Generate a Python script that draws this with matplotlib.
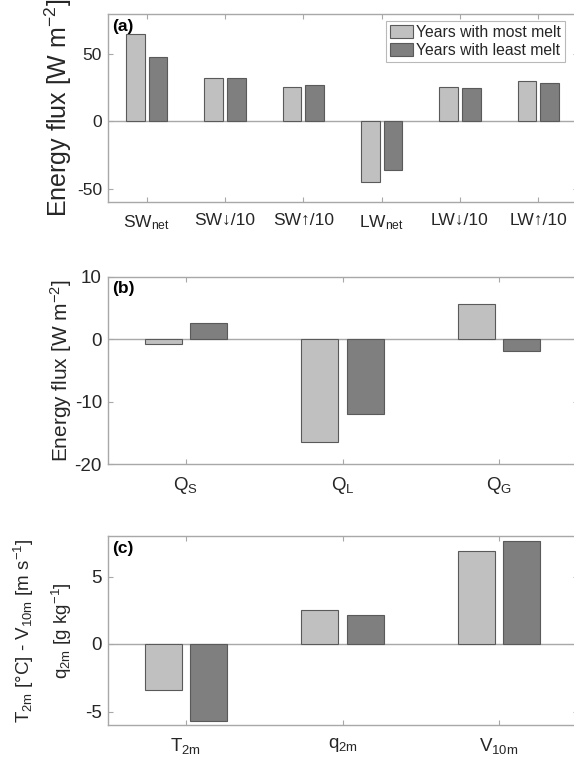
import matplotlib
matplotlib.use("Agg")
import matplotlib.pyplot as plt
import numpy as np

plt.rcParams['font.family'] = ['Liberation Sans', 'DejaVu Sans']
plt.rcParams['mathtext.fontset'] = 'custom'
plt.rcParams['mathtext.rm'] = 'Liberation Sans'
plt.rcParams['mathtext.it'] = 'Liberation Sans:italic'
plt.rcParams['mathtext.bf'] = 'Liberation Sans:bold'

# ---- data ----
series_names = ["Years with most melt", "Years with least melt"]

rad_labels = [r"SW$_{\mathrm{net}}$", "SW\u2193/10", "SW\u2191/10",
              r"LW$_{\mathrm{net}}$", "LW\u2193/10", "LW\u2191/10"]
rad_most = [65.3, 32.4, 25.7, -44.8, 25.7, 30.0]
rad_least = [48.0, 32.4, 27.5, -36.4, 25.2, 28.7]

turb_labels = [r"Q$_{\mathrm{S}}$", r"Q$_{\mathrm{L}}$", r"Q$_{\mathrm{G}}$"]
turb_most = [-0.7, -16.5, 5.6]
turb_least = [2.6, -12.0, -1.9]

met_labels = [r"T$_{\mathrm{2m}}$", r"q$_{\mathrm{2m}}$", r"V$_{\mathrm{10m}}$"]
met_most = [-3.42, 2.55, 6.9]
met_least = [-5.72, 2.15, 7.6]

light = "#c0c0c0"
dark = "#7f7f7f"
edge = "#5a5a5a"
axcol = "#a8a8a8"
txtcol = "#262626"

W, H = 574, 763
fig = plt.figure(figsize=(W / 100, H / 100), dpi=100)


def px_axes(top, bottom, left=107.5, width=470):
    return fig.add_axes([left / W, (H - bottom) / H, width / W, (bottom - top) / H])


def grouped(ax, labels, most, least, ylim, yticks, tick_fs):
    x = np.arange(1, len(labels) + 1)
    off, bw = 0.145, 0.235
    ax.bar(x - off, most, bw, color=light, edgecolor=edge, linewidth=0.8,
           label=series_names[0], zorder=3)
    ax.bar(x + off, least, bw, color=dark, edgecolor=edge, linewidth=0.8,
           label=series_names[1], zorder=3)
    ax.axhline(0, color=axcol, linewidth=1.0, zorder=2)
    ax.set_xlim(0.5, len(labels) + 0.5)
    ax.set_ylim(*ylim)
    ax.set_xticks(x)
    ax.set_xticklabels(labels, fontsize=tick_fs, color=txtcol)
    ax.set_yticks(yticks)
    ax.set_yticklabels([str(v) for v in yticks], fontsize=tick_fs, color=txtcol)
    ax.tick_params(direction='in', length=3.6, width=0.8, color=axcol,
                   top=True, right=True)
    ax.tick_params(axis='y', pad=4)
    ax.tick_params(axis='x', pad=8)
    for s in ax.spines.values():
        s.set_color(axcol)
        s.set_linewidth(1.0)


# (a) radiative fluxes
ax1 = px_axes(14, 202)
grouped(ax1, rad_labels, rad_most, rad_least, (-60, 80), [-50, 0, 50], 12.5)
ax1.set_ylabel(r"Energy flux [W m$^{-2}$]", fontsize=18, color=txtcol, va='center')
ax1.yaxis.set_label_coords((58 - 107.5) / 470, 0.5)
ax1.text(0.01, 0.975, "(a)", transform=ax1.transAxes, fontsize=12.5,
         fontweight='bold', ha='left', va='top', color='black')
leg = ax1.legend(loc='upper right', bbox_to_anchor=((565 - 107.5) / 470, (202 - 20.7) / 188),
                 fontsize=11.3, frameon=True, fancybox=False, edgecolor=axcol,
                 handlelength=1.45, handleheight=0.9, handletextpad=0.2,
                 borderpad=0.25, labelspacing=0.2, borderaxespad=0)
leg.get_frame().set_linewidth(0.8)
for t in leg.get_texts():
    t.set_color(txtcol)

# (b) turbulent and ground fluxes
ax2 = px_axes(276.7, 464.3)
grouped(ax2, turb_labels, turb_most, turb_least, (-20, 10), [-20, -10, 0, 10], 13.5)
ax2.set_ylabel(r"Energy flux [W m$^{-2}$]", fontsize=15, color=txtcol, va='center')
ax2.yaxis.set_label_coords((61 - 107.5) / 470, 0.5)
ax2.text(0.01, 0.975, "(b)", transform=ax2.transAxes, fontsize=12.5,
         fontweight='bold', ha='left', va='top', color='black')

# (c) near-surface meteorology
ax3 = px_axes(536, 725)
grouped(ax3, met_labels, met_most, met_least, (-6, 8), [-5, 0, 5], 13.5)
ax3.set_ylabel("T$_{\\mathrm{2m}}$ [\u00b0C] - V$_{\\mathrm{10m}}$ [m s$^{-1}$]\n"
               "q$_{\\mathrm{2m}}$ [g kg$^{-1}$]",
               fontsize=13.5, color=txtcol, va='center', linespacing=1.75)
ax3.yaxis.set_label_coords((43 - 107.5) / 470, 0.5)
ax3.text(0.01, 0.975, "(c)", transform=ax3.transAxes, fontsize=12.5,
         fontweight='bold', ha='left', va='top', color='black')

fig.savefig("out.png", dpi=100)
